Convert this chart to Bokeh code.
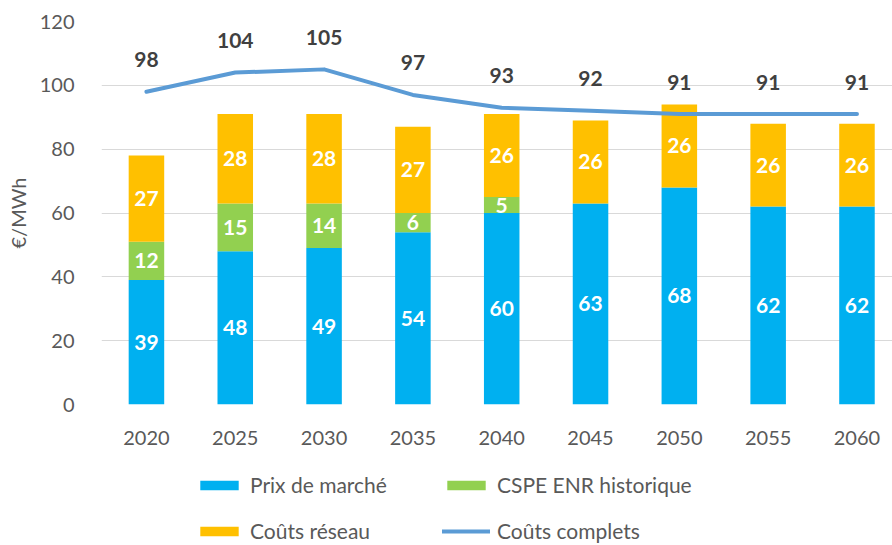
from bokeh.plotting import figure
from bokeh.models import ColumnDataSource, Legend, LegendItem, FixedTicker, Range1d
from bokeh.layouts import column
from bokeh.core.properties import value
from bokeh.embed import file_html
from bokeh.resources import INLINE

years = [2020, 2025, 2030, 2035, 2040, 2045, 2050, 2055, 2060]
prix_marche = [39, 48, 49, 54, 60, 63, 68, 62, 62]
cspe_enr = [12, 15, 14, 6, 5, 0, 0, 0, 0]
couts_reseau = [27, 28, 28, 27, 26, 26, 26, 26, 26]
couts_complets = [98, 104, 105, 97, 93, 92, 91, 91, 91]
series_names = ["Prix de marché", "CSPE ENR historique", "Coûts réseau", "Coûts complets"]

C_BLUE = "#00B0F0"
C_GREEN = "#92D050"
C_ORANGE = "#FFC000"
C_LINE = "#5B9BD5"
FONT = "Lato"
GREY = "#595959"

src = ColumnDataSource(dict(year=years, marche=prix_marche, cspe=cspe_enr, reseau=couts_reseau))

p = figure(width=892, height=460, output_backend="svg", toolbar_location=None,
           x_range=Range1d(2017.47, 2062.0), y_range=Range1d(0, 120),
           min_border_left=101, min_border_right=0, min_border_top=21, min_border_bottom=56)
p.outline_line_color = None

bars = p.vbar_stack(["marche", "cspe", "reseau"], x="year", width=2.0, source=src,
                    color=[C_BLUE, C_GREEN, C_ORANGE], line_color=None)

line = p.line(years, couts_complets, line_color=C_LINE, line_width=4, line_cap="round", line_join="round")

# segment labels
lx, ly, lt = [], [], []
for i, yr in enumerate(years):
    base = 0
    for v in (prix_marche[i], cspe_enr[i], couts_reseau[i]):
        if v > 0:
            lx.append(yr)
            ly.append(base + v / 2)
            lt.append(str(v))
        base += v
p.text(x=lx, y=ly, text=lt, text_color="white", text_font=value(FONT), text_font_style="bold",
       text_font_size="21px", text_align="center", text_baseline="middle")

p.text(x=years, y=couts_complets, text=[str(v) for v in couts_complets], text_color="#404040",
       text_font=value(FONT), text_font_style="bold", text_font_size="21px",
       text_align="center", text_baseline="middle", y_offset=-32)

# axes
p.xaxis.ticker = FixedTicker(ticks=years)
p.yaxis.ticker = FixedTicker(ticks=[0, 20, 40, 60, 80, 100, 120])
for ax in (p.xaxis[0], p.yaxis[0]):
    ax.major_tick_line_color = None
    ax.minor_tick_line_color = None
    ax.axis_line_color = None
    ax.major_label_text_font = FONT
    ax.major_label_text_font_size = "20px"
    ax.major_label_text_color = GREY
p.xaxis.major_label_standoff = 20
p.yaxis.major_label_standoff = 21
p.yaxis.axis_label = "€/MWh"
p.yaxis.axis_label_text_font = FONT
p.yaxis.axis_label_text_font_size = "20px"
p.yaxis.axis_label_text_font_style = "normal"
p.yaxis.axis_label_text_color = GREY
p.yaxis.axis_label_standoff = 7

p.xgrid.grid_line_color = None
p.ygrid.grid_line_color = "#D9D9D9"
p.ygrid.grid_line_width = 1

# legend strip below the chart (proxy glyphs sit outside the visible range)
lg = figure(width=892, height=85, output_backend="svg", toolbar_location=None,
            x_range=Range1d(0, 1), y_range=Range1d(0, 1), x_axis_type=None, y_axis_type=None,
            min_border=0, min_border_left=0, min_border_right=0, min_border_top=0, min_border_bottom=0)
lg.outline_line_color = None
lg.grid.visible = False
r1 = lg.vbar(x=[-5], top=[-5], width=1, color=C_BLUE, line_color=None)
r2 = lg.vbar(x=[-5], top=[-5], width=1, color=C_GREEN, line_color=None)
r3 = lg.vbar(x=[-5], top=[-5], width=1, color=C_ORANGE, line_color=None)
r4 = lg.line(x=[-5, -4], y=[-5, -5], line_color=C_LINE, line_width=4, line_cap="round")

legend = Legend(items=[
    LegendItem(label=series_names[0], renderers=[r1]),
    LegendItem(label=series_names[2], renderers=[r3]),
    LegendItem(label=series_names[1], renderers=[r2]),
    LegendItem(label=series_names[3], renderers=[r4]),
], location=(94, 2), ncols=2, padding=0, margin=0, spacing=21,
    glyph_width=48, glyph_height=12, label_standoff=7, label_width=171, label_height=22,
    label_text_font=FONT, label_text_font_size="21px", label_text_color=GREY,
    border_line_color=None, background_fill_alpha=0)
lg.add_layout(legend, "center")

open("out.html", "w").write(file_html(column(p, lg, spacing=0), INLINE))
